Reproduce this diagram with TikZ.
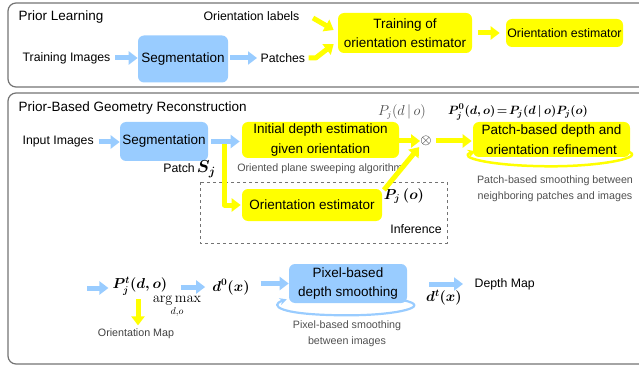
\documentclass[tikz,border=0pt]{standalone}
\usepackage{amsmath}
\usepackage[no-math]{fontspec}
\setmainfont{Liberation Sans}
\usetikzlibrary{arrows.meta}
\definecolor{boxblue}{HTML}{99CCFF}
\definecolor{boxyellow}{HTML}{FFFF00}
\definecolor{capgray}{HTML}{505050}

\begin{document}
\begin{tikzpicture}[x=1pt,y=-1pt,line join=round,semithick]
\tikzstyle{every node}=[font=\fontsize{12.3}{14}\selectfont]
\tikzstyle{panel}=[draw=black!55,line width=1.2pt,rounded corners=8pt]
\tikzstyle{bluebox}=[fill=boxblue,rounded corners=6pt,align=center,inner sep=0pt,font=\fontsize{13.5}{19.5}\selectfont]
\tikzstyle{yellowbox}=[fill=boxyellow,rounded corners=6pt,align=center,inner sep=0pt,font=\fontsize{13.5}{19.5}\selectfont]
\tikzstyle{caption}=[text=capgray,align=center,font=\fontsize{10.7}{16.5}\selectfont]
\tikzstyle{mathlabel}=[inner sep=1pt,font=\fontsize{14}{18}\selectfont\boldmath]
\tikzstyle{bluearrow}=[draw=boxblue,line width=5pt,-{Triangle[length=9pt,width=13pt]}]
\tikzstyle{yellowarrow}=[draw=boxyellow,line width=5pt,-{Triangle[length=9pt,width=13pt]}]
\useasboundingbox (0,0) rectangle (639,366);
\clip (0,0) rectangle (639,366);

% the two frames
\draw[panel] (8,3) rectangle (650,87);
\draw[panel] (8,93) rectangle (650,364);

%%% prior learning
\node[anchor=west,font=\fontsize{13.5}{15}\selectfont] (learnTitle) at (15,17) {Prior Learning};
\node[anchor=east] (oLabels) at (303,16) {Orientation labels};
\node[anchor=west] (trainImg) at (19,58) {Training Images};
\node[bluebox,minimum width=90pt,minimum height=47pt] (seg1) at (183,59) {Segmentation};
\node[anchor=west] (patches) at (257,58) {Patches};
\node[yellowbox,minimum width=134pt,minimum height=40pt] (train) at (405,33) {Training of\\orientation estimator};
\node[yellowbox,minimum width=117pt,minimum height=28pt,font=\fontsize{12.3}{14}\selectfont] (oEst1) at (564.5,33) {Orientation estimator};

\draw[bluearrow,shorten <=1pt] (trainImg.east) -- (seg1.west |- trainImg.east);
\draw[bluearrow,shorten <=2pt] (seg1.east |- patches.west) -- (patches.west);
\draw[yellowarrow] (patches.east) -- ++(7,0) -- ([xshift=-4pt,yshift=-11pt]train.west);
\draw[yellowarrow] ([xshift=10pt,yshift=-2pt]oLabels.east) -- ([xshift=-4pt,yshift=3pt]train.west);
\draw[yellowarrow,shorten <=6pt,shorten >=6pt] (train.east |- oEst1.west) -- (oEst1.west);

%%% prior-based reconstruction
\node[anchor=west,font=\fontsize{13.5}{15}\selectfont] (reconTitle) at (15,108) {Prior-Based Geometry Reconstruction};
\node[anchor=west] (inImg) at (19,142) {Input Images};
\node[bluebox,minimum width=88pt,minimum height=39pt] (seg2) at (164,141.5) {Segmentation};
\node[yellowbox,minimum width=157pt,minimum height=36pt] (initDepth) at (320.5,140) {Initial depth estimation\\given orientation};
\node[caption] (sweep) at (320,169) {Oriented plane sweeping algorithm};
\node[anchor=east,inner sep=0pt] (patchS) at (216,169) {Patch\,{\fontsize{18}{18}\selectfont\boldmath$S_j$}};

% inference block
\draw[black!55,dashed,line width=0.8pt] (200,182) rectangle (447,243);
\node[yellowbox,minimum width=140pt,minimum height=32pt] (oEst2) at (312,205) {Orientation estimator};
\node[mathlabel] (Po) at (404,196) {$P_j\,(o)$};
\node (infer) at (416,229) {Inference};

\node[inner sep=1pt,font=\fontsize{15}{18}\selectfont] (otimes) at (426,141) {$\otimes$};
\node[inner sep=1pt,text=black!70,font=\fontsize{13.5}{18}\selectfont] (Pdo) at (402,112) {$P_j(d\,|\,o)$};
\node[mathlabel,font=\fontsize{12.6}{18}\selectfont\boldmath] (P0) at (518,112) {$P_j^0(d,o)\!=\!P_j(d\,|\,o)P_j(o)$};
\node[yellowbox,minimum width=157pt,minimum height=35pt] (refine) at (551.5,139.5) {Patch-based depth and\\orientation refinement};
\node[caption] (refineCap) at (555,188.5) {Patch-based smoothing between\\neighboring patches and images};

\draw[yellowarrow] (seg2.east) ++(16,0) coordinate (branch) |- ([xshift=-1pt]oEst2.west);
\draw[bluearrow,shorten <=2pt] (inImg.east) -- (seg2.west |- inImg.east);
\draw[bluearrow,shorten <=3pt,shorten >=2pt] (seg2.east) -- (initDepth.west |- seg2.east);
\draw[yellowarrow,shorten >=-1pt] (initDepth.east |- otimes.west) -- (otimes.west);
\draw[yellowarrow,shorten <=3pt,shorten >=1pt] (otimes.east) -- (refine.west |- otimes.east);
\draw[yellowarrow,shorten <=1pt] ([xshift=1pt,yshift=-2pt]oEst2.north east) -- (otimes.south west);
\draw[boxyellow,line width=2.5pt,-{Stealth[length=8pt,width=8pt]}]
  ([xshift=-3pt,yshift=6pt]refine.south east) .. controls +(20,6) and +(50,0) .. ([yshift=-9pt]refine.south)
  .. controls +(-60,0) and +(-20,6) .. ([xshift=3pt,yshift=6pt]refine.south west);

%%% pixel-based step
\coordinate (pStart) at (87,288);
\node[mathlabel] (Pt) at (140,286) {$P_j^t(d,o)$};
\node[inner sep=0pt,anchor=north,font=\fontsize{14.6}{17}\selectfont] (argmax) at (177,296) {$\displaystyle\mathop{\mathrm{arg\,max}}_{d,o}$};
\node[caption,text=black!75] (oMap) at (136,334) {Orientation Map};
\node[mathlabel] (d0) at (231,287) {$d^0(x)$};
\node[bluebox,minimum width=118pt,minimum height=39pt] (pixel) at (348,283.5) {Pixel-based\\depth smoothing};
\node[caption] (pixelCap) at (347,333.5) {Pixel-based smoothing\\between images};
\node[mathlabel] (dt) at (444,298) {$d^t(x)$};
\node[anchor=west] (dMap) at (471,284) {Depth Map};

\draw[bluearrow,shorten >=3pt] (pStart) -- (Pt.west |- pStart);
\draw[bluearrow,shorten <=12pt,shorten >=6pt] (Pt.east |- d0.west) -- (d0.west);
\draw[bluearrow,shorten <=10pt] (d0.east |- pixel.west) -- (pixel.west);
\draw[bluearrow,shorten <=22pt,shorten >=8pt] (pixel.east |- dMap.west) -- (dMap.west);
\draw[yellowarrow] (138,299) coordinate (oStart) -- (oMap.north -| oStart);
\draw[boxblue,line width=2.2pt,-{Stealth[length=7pt,width=7pt]}]
  ([xshift=-4pt,yshift=3pt]pixel.south east) .. controls +(30,6) and +(50,0) .. ([yshift=-12pt]pixel.south)
  .. controls +(-70,0) and +(-18,6) .. ([xshift=-2pt,yshift=4pt]pixel.south west);
\end{tikzpicture}
\end{document}
